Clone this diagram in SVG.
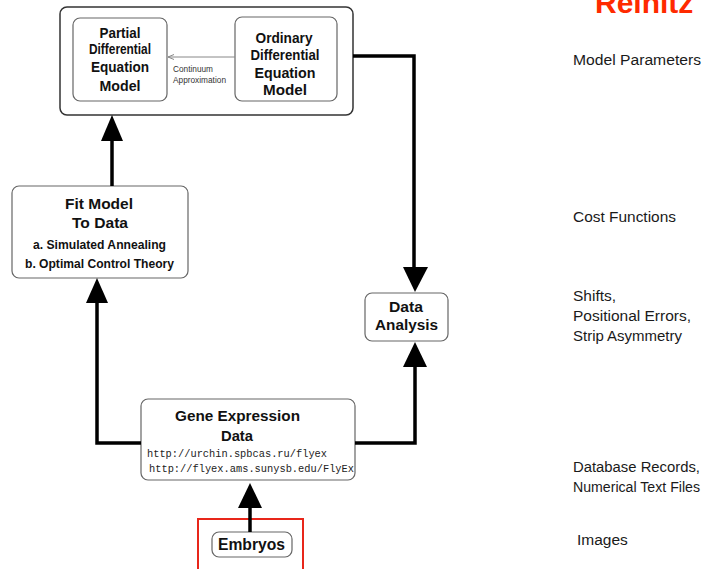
<svg xmlns="http://www.w3.org/2000/svg" width="719" height="569" viewBox="0 0 719 569">
<style>
.box{fill:#fff;stroke:#666;stroke-width:1.2}
.outer{fill:#fff;stroke:#333;stroke-width:1.5}
.lbl{font-family:"Liberation Sans",Arial,sans-serif;font-weight:bold;fill:#111;text-anchor:middle}
.url{font-family:"Liberation Mono","Courier New",monospace;fill:#222;font-size:10px}
.side{font-family:"Liberation Sans",Arial,sans-serif;fill:#1a1a1a;font-size:15.5px}
.thick{fill:none;stroke:#000;stroke-width:3.5}
.head{fill:#000}
.small{font-family:"Liberation Sans",Arial,sans-serif;fill:#333;font-size:8.3px}
</style>
<defs>
<marker id="thin" markerWidth="8" markerHeight="6" refX="7" refY="3" orient="auto" markerUnits="userSpaceOnUse">
<path d="M1,0.5 L7,3 L1,5.5" fill="none" stroke="#888" stroke-width="1"/>
</marker>
</defs>
<rect width="719" height="569" fill="#fff"/>

<text x="595" y="13" font-family="Liberation Sans,Arial,sans-serif" font-weight="bold" font-size="30" fill="#ff2a00">Reinitz</text>

<g id="top-model">
<rect class="outer" x="60" y="7" width="293" height="108" rx="7"/>
<g id="pde">
<rect class="box" x="73" y="18" width="94" height="83" rx="7"/>
<text class="lbl" font-size="14" x="120" y="38" textLength="41" lengthAdjust="spacingAndGlyphs">Partial</text>
<text class="lbl" font-size="14" x="120" y="54" textLength="62" lengthAdjust="spacingAndGlyphs">Differential</text>
<text class="lbl" font-size="14" x="120" y="72" textLength="58" lengthAdjust="spacingAndGlyphs">Equation</text>
<text class="lbl" font-size="14" x="120" y="91" textLength="41" lengthAdjust="spacingAndGlyphs">Model</text>
</g>
<g id="ode">
<rect class="box" x="235" y="17" width="102" height="84" rx="7"/>
<text class="lbl" font-size="14" x="284" y="43" textLength="57" lengthAdjust="spacingAndGlyphs">Ordinary</text>
<text class="lbl" font-size="14" x="285" y="60" textLength="69" lengthAdjust="spacingAndGlyphs">Differential</text>
<text class="lbl" font-size="14" x="285" y="78" textLength="61" lengthAdjust="spacingAndGlyphs">Equation</text>
<text class="lbl" font-size="14" x="285" y="95" textLength="44" lengthAdjust="spacingAndGlyphs">Model</text>
</g>
</g>

<g id="fit">
<rect class="box" x="12" y="186" width="176" height="92" rx="7"/>
<text class="lbl" font-size="15" x="99" y="209" textLength="68" lengthAdjust="spacingAndGlyphs">Fit Model</text>
<text class="lbl" font-size="15" x="100" y="228" textLength="56" lengthAdjust="spacingAndGlyphs">To Data</text>
<text class="lbl" font-size="12" x="99.5" y="249" textLength="133" lengthAdjust="spacingAndGlyphs">a. Simulated Annealing</text>
<text class="lbl" font-size="12" x="99.5" y="268" textLength="149" lengthAdjust="spacingAndGlyphs">b. Optimal Control Theory</text>
</g>

<g id="analysis">
<rect class="box" x="365" y="293" width="83" height="48" rx="7"/>
<text class="lbl" font-size="14" x="406" y="312" textLength="34" lengthAdjust="spacingAndGlyphs">Data</text>
<text class="lbl" font-size="14" x="406.5" y="330" textLength="63" lengthAdjust="spacingAndGlyphs">Analysis</text>
</g>

<g id="gene">
<rect class="box" x="141" y="399" width="214" height="81" rx="7"/>
<text class="lbl" font-size="15.5" x="237.5" y="421" textLength="125" lengthAdjust="spacingAndGlyphs">Gene Expression</text>
<text class="lbl" font-size="15.5" x="237" y="441" textLength="32" lengthAdjust="spacingAndGlyphs">Data</text>
<text class="url" x="147" y="457" textLength="180" lengthAdjust="spacingAndGlyphs">http://urchin.spbcas.ru/flyex</text>
<text class="url" x="149" y="472" textLength="205" lengthAdjust="spacingAndGlyphs">http://flyex.ams.sunysb.edu/FlyEx</text>
</g>

<g id="embryos">
<rect x="198" y="519" width="105" height="70" fill="none" stroke="#e8261a" stroke-width="2"/>
<rect class="box" x="212" y="532" width="80" height="25" rx="7"/>
<text class="lbl" font-size="16" x="251.5" y="550" textLength="67" lengthAdjust="spacingAndGlyphs">Embryos</text>
</g>

<g id="connectors">
<path d="M235,57 H168" fill="none" stroke="#888" stroke-width="1" marker-end="url(#thin)"/>
<text class="small" x="173" y="72" textLength="40" lengthAdjust="spacingAndGlyphs">Continuum</text>
<text class="small" x="173" y="83" textLength="53" lengthAdjust="spacingAndGlyphs">Approximation</text>

<path class="thick" d="M112,186 V139"/>
<polygon class="head" points="112,115 101,141 123,141"/>

<path class="thick" d="M353,56 H414 V269"/>
<polygon class="head" points="415,292 403,267 428,267"/>

<path class="thick" d="M355,443 H415 V365"/>
<polygon class="head" points="415,342 403,367 427,367"/>

<path class="thick" d="M141,443 H97 V300"/>
<polygon class="head" points="97,278 86,303 108,303"/>

<path class="thick" d="M250,532 V505"/>
<polygon class="head" points="250,483 238,508 262,508"/>
</g>

<g id="side-labels">
<text class="side" x="573" y="65" textLength="128" lengthAdjust="spacingAndGlyphs">Model Parameters</text>
<text class="side" x="573" y="222" textLength="103" lengthAdjust="spacingAndGlyphs">Cost Functions</text>
<text class="side" x="573" y="301">Shifts,</text>
<text class="side" x="573" y="321" textLength="118" lengthAdjust="spacingAndGlyphs">Positional Errors,</text>
<text class="side" x="573" y="341" textLength="109" lengthAdjust="spacingAndGlyphs">Strip Asymmetry</text>
<text class="side" x="573" y="472" textLength="127" lengthAdjust="spacingAndGlyphs">Database Records,</text>
<text class="side" x="573" y="492" textLength="127" lengthAdjust="spacingAndGlyphs">Numerical Text Files</text>
<text class="side" x="577" y="545">Images</text>
</g>
</svg>
